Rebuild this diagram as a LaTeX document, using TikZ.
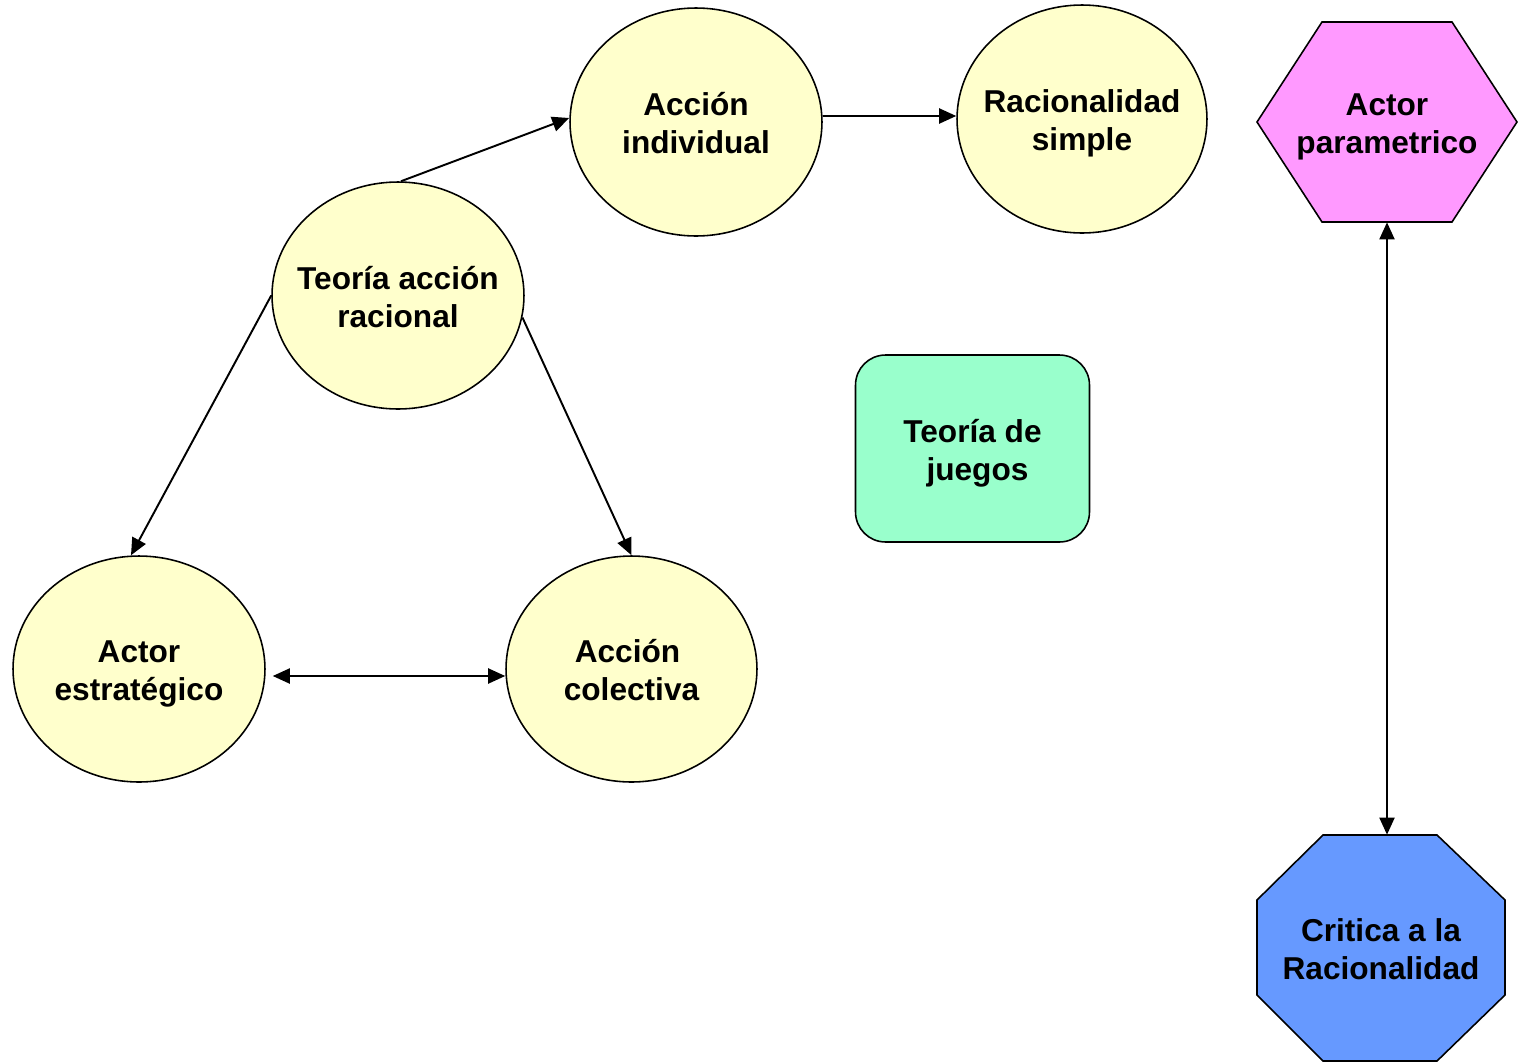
\documentclass[tikz,border=0pt]{standalone}
\usepackage{fontspec}
\setmainfont{Liberation Sans}
\usetikzlibrary{shapes.geometric,arrows.meta}
\definecolor{ellfill}{HTML}{FFFFCC}
\definecolor{pinkfill}{HTML}{FF99FF}
\definecolor{greenfill}{HTML}{99FFCC}
\definecolor{bluefill}{HTML}{6699FF}
\newcommand{\mytxt}[1]{\makebox[0pt]{\raisebox{-0.1cm}[\height][\depth]{\begin{tabular}{@{}c@{}}#1\end{tabular}}}}
\tikzset{
  ell/.style={ellipse, draw=black, line width=0.9pt, fill=ellfill, inner sep=0pt, font=\fontsize{18}{21.6}\selectfont\bfseries},
  shapebox/.style={rectangle, inner sep=0pt, font=\fontsize{18}{21.6}\selectfont\bfseries},
  poly/.style={draw=black, line width=0.9pt},
  conn/.style={line width=1.1pt, -{Triangle[length=0.34cm, width=0.3cm]}},
  dconn/.style={line width=1.1pt, {Triangle[length=0.34cm, width=0.3cm]}-{Triangle[length=0.34cm, width=0.3cm]}}
}
\begin{document}
\begin{tikzpicture}[x=0.02cm, y=-0.02cm]
\useasboundingbox (0,0) rectangle (1519,1062);
% ellipses
\node[ell, minimum width=5.04cm, minimum height=4.56cm] (ai) at (696,122) {\mytxt{Acción\\individual}};
\node[ell, minimum width=5.0cm, minimum height=4.56cm] (rs) at (1082,119) {\mytxt{Racionalidad\\simple}};
\node[ell, minimum width=5.04cm, minimum height=4.54cm] (ta) at (398,295.5) {\mytxt{Teoría acción\\racional}};
\node[ell, minimum width=5.04cm, minimum height=4.52cm] (ae) at (139,669) {\mytxt{Actor\\estratégico}};
\node[ell, minimum width=5.02cm, minimum height=4.52cm] (ac) at (631.5,669) {\mytxt{Acción\hspace{0.16cm}\mbox{}\\colectiva}};
% rounded rectangle
\node[shapebox, draw=black, line width=0.9pt, fill=greenfill, rounded corners=0.6cm, minimum width=4.68cm, minimum height=3.74cm] (tj) at (972.5,448.5) {\mytxt{Teoría de\\\hspace{0.2cm}juegos}};
% hexagon
\path[poly, fill=pinkfill] (1257,122) -- (1322,22) -- (1452,22) -- (1517,122) -- (1452,222) -- (1322,222) -- cycle;
\node[shapebox, minimum width=5.2cm, minimum height=4.0cm] (ap) at (1387,122) {\mytxt{Actor\\parametrico}};
% octagon
\path[poly, fill=bluefill] (1257,900) -- (1323,835) -- (1437,835) -- (1505,900) -- (1505,995) -- (1437,1061) -- (1323,1061) -- (1257,995) -- cycle;
\node[shapebox, minimum width=4.96cm, minimum height=4.52cm] (cr) at (1381,948) {\mytxt{Critica a la\\Racionalidad}};
% connectors
\draw[conn] ([xshift=0.06cm]ta.north) -- ([yshift=0.08cm]ai.west);
\draw[conn] ([yshift=0.12cm]ai.east) -- ([yshift=0.06cm]rs.west);
\draw[conn] (ta.west) -- ([xshift=-0.16cm]ae.north);
\draw[conn] (ta.-10) -- (ac.north);
\draw[dconn, shorten <=0.14cm] ([yshift=-0.14cm]ae.east) -- ([yshift=-0.14cm]ac.west);
\draw[dconn] (ap.south) -- (ap.south |- cr.north);
\end{tikzpicture}
\end{document}
